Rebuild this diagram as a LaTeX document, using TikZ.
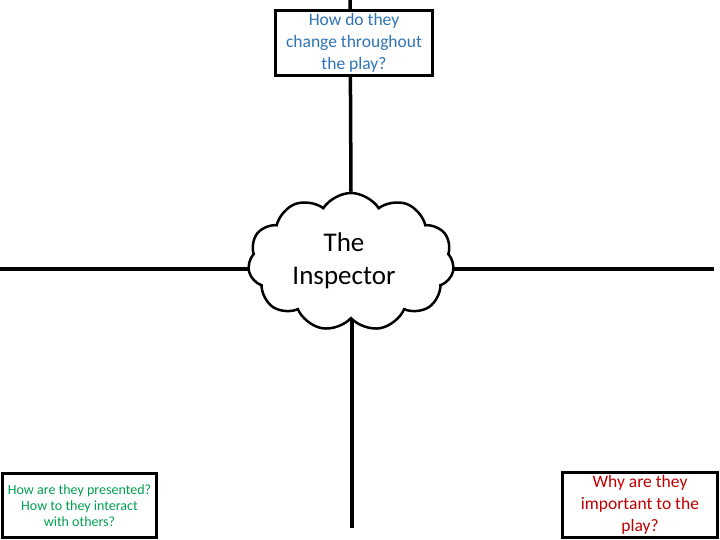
\documentclass[tikz,border=0pt]{standalone}
\usepackage{fontspec}
\setmainfont{Carlito}
\usepackage{xcolor}
\usetikzlibrary{shapes.symbols,positioning}
\definecolor{qblue}{HTML}{2E75B6}
\definecolor{qgreen}{HTML}{00A050}
\definecolor{qred}{HTML}{C00000}
\tikzstyle{question} = [rectangle, draw=black, line width=2.5pt, fill=white, text centered, align=center, inner sep=1pt]
\tikzstyle{spoke} = [line width=3.5pt]

\begin{document}
\begin{tikzpicture}[x=1pt,y=-1pt]
      \useasboundingbox (0,0) rectangle (720,540);
      \node (hub)[cloud, cloud puffs=11, cloud puff arc=115, draw=black, line width=2.5pt, fill=white, minimum width=206pt, minimum height=138pt] at (351,262) {};
      \node (hubtext)[align=center, font=\fontsize{27}{33}\selectfont] at (344,261) {The\\Inspector};
      \coordinate (topend) at (350,0);
      \coordinate (leftend) at (0,269);
      \coordinate (rightend) at (714,269);
      \coordinate (bottomend) at (352,528);
      \draw [spoke](hub.north) -- (topend);
      \draw [spoke](hub.west |- leftend) -- (leftend);
      \draw [spoke](hub.east |- rightend) -- (rightend);
      \draw [spoke](hub.south -| bottomend) -- (bottomend);
      \node (change)[question, minimum width=157pt, minimum height=65pt, text=qblue, font=\fontsize{17.5}{22}\selectfont, text depth=4pt] at (354,43) {How do they\\change throughout\\the play?};
      \node (present)[question, minimum width=154pt, minimum height=64pt, text=qgreen, font=\fontsize{14}{16}\selectfont] at (79.5,505.5) {How are they presented?\\How to they interact\\with others?};
      \node (matter)[question, minimum width=155pt, minimum height=65pt, text=qred, font=\fontsize{17.5}{22}\selectfont, text depth=4pt] at (640,505) {Why are they\\important to the\\play?};
    \end{tikzpicture}
\end{document}
